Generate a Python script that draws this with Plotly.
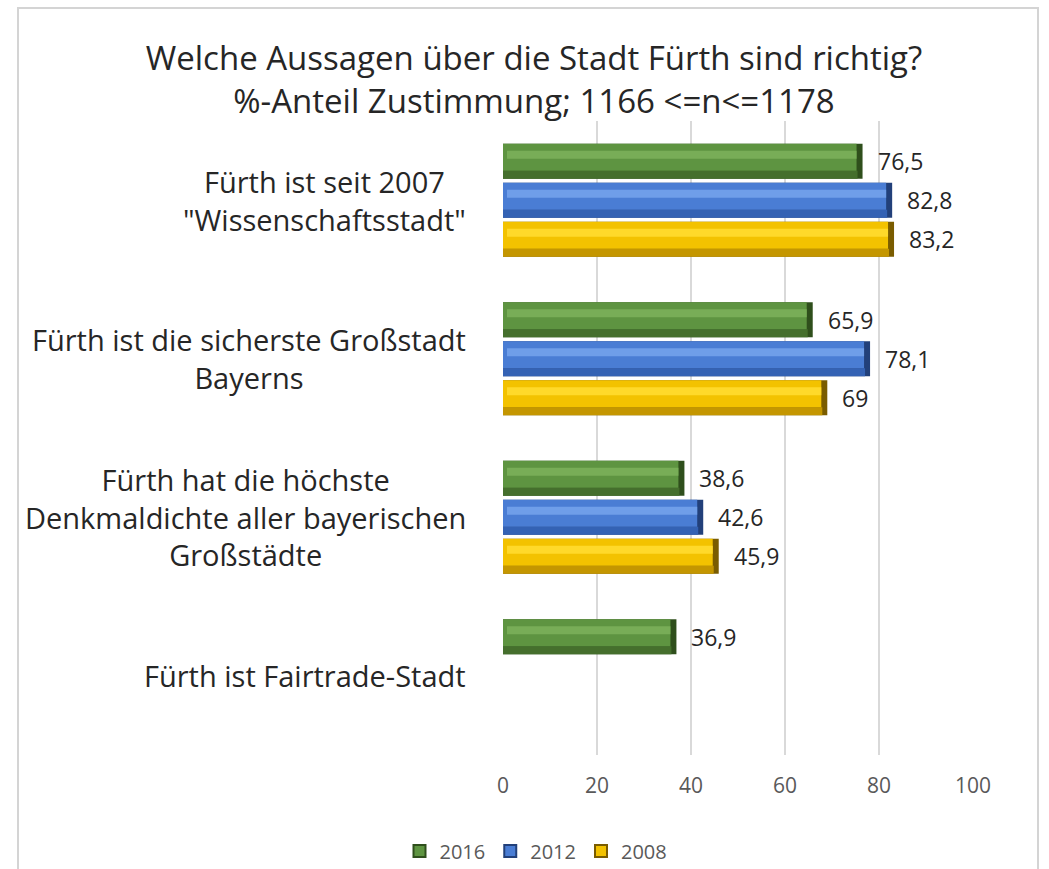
import plotly.graph_objects as go

# Survey statements (y categories, top to bottom)
categories = [
    "Fürth ist seit 2007<br>\"Wissenschaftsstadt\"",
    "Fürth ist die sicherste Großstadt<br>Bayerns",
    "Fürth hat die höchste<br>Denkmaldichte aller bayerischen<br>Großstädte",
    "Fürth ist Fairtrade-Stadt",
]
years = ["2016", "2012", "2008"]
v2016 = [76.5, 65.9, 38.6, 36.9]
v2012 = [82.8, 78.1, 42.6, None]
v2008 = [83.2, 69.0, 45.9, None]
xticks = [0, 20, 40, 60, 80, 100]

series = [v2016, v2012, v2008]

# bevel shades per year: end cap, bottom bevel, face, highlight band
palette = {
    "2016": ("#2f4f1c", "#456f2d", "#5e9441", "#78ad57"),
    "2012": ("#22407a", "#3462b4", "#4a7dd4", "#6f9ee9"),
    "2008": ("#7a5c00", "#c49600", "#f3c200", "#ffd92a"),
}

W, H = 1049, 869
ML, MR, MT, MB = 503, 76, 121, 114
plot_h = H - MT - MB
pw = W - ML - MR
py = 1.0 / (plot_h / 4.0)          # one vertical pixel in category units
ux = 100.0 / pw                     # one horizontal pixel in percent
shift = 39 * py                     # spacing between year bars
bar_w = 35 * py                     # bar thickness

font = "'Open Sans', Lato, sans-serif"
fig = go.Figure()


def layer(xs, ys, width, base, color):
    fig.add_trace(go.Bar(
        x=xs, y=ys, orientation="h", width=width, base=base,
        marker=dict(color=color, line=dict(width=0)),
        showlegend=False, hoverinfo="skip"))


for k, (yr, vals) in enumerate(zip(years, series)):
    cap, bottom, face, hi = palette[yr]
    idx = [i for i, v in enumerate(vals) if v is not None]
    vv = [vals[i] for i in idx]
    yc = [i + (k - 1) * shift for i in idx]
    top = [c - bar_w / 2 for c in yc]
    # full bar in the end-cap shade
    layer(vv, yc, bar_w, 0, cap)
    # lower bevel
    layer([v - 5 * ux for v in vv], [t + 31 * py for t in top], 8 * py, 0, bottom)
    # main face
    layer([v - 6 * ux for v in vv], [t + 13.5 * py for t in top], 27 * py, 0, face)
    # light band across the face
    layer([v - 10 * ux for v in vv], [t + 11 * py for t in top], 8 * py,
          4 * ux, hi)
    # legend entry
    fig.add_trace(go.Bar(
        x=[None], y=[None], orientation="h", name=yr,
        marker=dict(color=face, line=dict(color=cap, width=2)),
        showlegend=True))
    # value labels
    for c, v in zip(yc, vv):
        fig.add_annotation(
            x=v, y=c, xref="x", yref="y", xanchor="left", yanchor="middle",
            xshift=13, showarrow=False,
            text=f"{v:g}".replace(".", ","),
            font=dict(family=font, size=23, color="#262626"))

# category labels, centred lines, right-aligned block
for i, cat in enumerate(categories):
    fig.add_annotation(
        x=(468 - ML) / pw, y=i, xref="paper", yref="y",
        xanchor="right", yanchor="middle", align="center", showarrow=False,
        text=cat, font=dict(family=font, size=29, color="#262626"))

# outer chart frame
fig.add_shape(
    type="rect", xref="paper", yref="paper",
    x0=(18 - ML) / pw, x1=(1038 - ML) / pw,
    y0=(H - MB - 885) / plot_h, y1=(H - MB - 8) / plot_h,
    line=dict(color="#d4d4d4", width=2), fillcolor="rgba(0,0,0,0)",
    layer="below")

fig.update_layout(
    width=W, height=H,
    margin=dict(l=ML, r=MR, t=MT, b=MB, autoexpand=False),
    paper_bgcolor="white", plot_bgcolor="white",
    barmode="overlay",
    title=dict(
        text="Welche Aussagen über die Stadt Fürth sind richtig?<br>%-Anteil Zustimmung; 1166 &lt;=n&lt;=1178",
        x=534 / W, xanchor="center", y=1 - 70 / H, yanchor="middle",
        font=dict(family=font, size=33, color="#262626")),
    xaxis=dict(
        range=[0, 100], tickvals=xticks, showgrid=True,
        gridcolor="#d9d9d9", gridwidth=2, zeroline=False, showline=False,
        ticks="", ticklabelstandoff=16,
        tickfont=dict(family=font, size=21, color="#595959")),
    yaxis=dict(
        range=[3.5, -0.5], showticklabels=False, showgrid=False,
        zeroline=False, showline=False, ticks=""),
    legend=dict(
        orientation="h", xref="container", yref="container",
        x=536 / W, xanchor="center", y=1 - 851 / H, yanchor="middle",
        font=dict(family=font, size=20, color="#595959"),
        bgcolor="rgba(0,0,0,0)", itemwidth=30, tracegroupgap=0),
    showlegend=True,
)

fig.write_html("out.html")
